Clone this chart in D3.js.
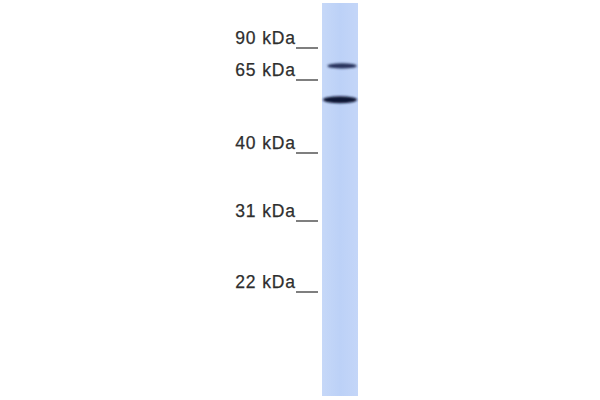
<!DOCTYPE html>
<html>
<head>
<meta charset="utf-8">
<script src="https://cdn.jsdelivr.net/npm/d3@7"></script>
<style>
  body { margin: 0; background: #fff; }
  svg { display: block; }
</style>
</head>
<body>
<div class="blot"></div>
<script>
// marker ladder (kDa) and label text
const markers = [90, 65, 40, 31, 22];
const markerLabels = ["90 kDa", "65 kDa", "40 kDa", "31 kDa", "22 kDa"];
// detected bands in the lane: apparent size (kDa) and relative strength
const bandSizes = [75, 57];
const bandStrength = [0.7, 1];

function run() {
    let root = document.querySelector('.blot')
    var w = 600, h = 400;
    var svg = d3.select(root)
        .append("svg")
        .attr("width", w)
        .attr("height", h);

    // ladder positions don't follow a clean log line, so piecewise log scale
    var yScale = d3.scaleLog()
        .domain(markers)
        .range([48, 80, 153, 221, 292]);

    var lane = { x0: 322, x1: 358, top: 3, bottom: 396 };

    var defs = svg.append("defs");
    var grad = defs.append("linearGradient")
        .attr("id", "laneGrad")
        .attr("x1", "0%").attr("x2", "100%");
    grad.append("stop").attr("offset", "0%").attr("stop-color", "#c6d8f8");
    grad.append("stop").attr("offset", "50%").attr("stop-color", "#bcd1f7");
    grad.append("stop").attr("offset", "100%").attr("stop-color", "#c4d6f8");
    defs.append("filter")
        .attr("id", "soft")
        .attr("x", "-20%").attr("y", "-80%")
        .attr("width", "140%").attr("height", "260%")
        .append("feGaussianBlur")
        .attr("stdDeviation", 1);
    defs.append("filter")
        .attr("id", "edge")
        .append("feGaussianBlur")
        .attr("stdDeviation", 0.6);

    // lane
    svg.append("rect")
        .attr("x", lane.x0)
        .attr("y", lane.top)
        .attr("width", lane.x1 - lane.x0)
        .attr("height", lane.bottom - lane.top)
        .attr("fill", "url(#laneGrad)")
        .attr("filter", "url(#edge)");

    // bands
    svg.selectAll("ellipse.band")
        .data(bandSizes)
        .enter()
        .append("ellipse")
        .attr("class", "band")
        .attr("cx", function(d, i) { return (lane.x0 + lane.x1) / 2 + (1 - bandStrength[i]) * 7; })
        .attr("cy", function(d) { return yScale(d); })
        .attr("rx", function(d, i) { return (lane.x1 - lane.x0) / 2 - 1 - (1 - bandStrength[i]) * 8; })
        .attr("ry", function(d, i) { return 0.6 + bandStrength[i] * 2.8; })
        .attr("fill", function(d, i) { return i == 0 ? "#26335c" : "#0e1736"; })
        .attr("filter", "url(#soft)");

    // marker ticks
    svg.selectAll("line.tick")
        .data(markers)
        .enter()
        .append("line")
        .attr("class", "tick")
        .attr("x1", 296)
        .attr("x2", 318)
        .attr("y1", function(d) { return yScale(d); })
        .attr("y2", function(d) { return yScale(d); })
        .attr("stroke", "#555")
        .attr("stroke-width", 1.5);

    // marker labels
    svg.selectAll("text.label")
        .data(markers)
        .enter()
        .append("text")
        .attr("class", "label")
        .text(function(d, i) { return markerLabels[i]; })
        .attr("text-anchor", "end")
        .attr("x", 296)
        .attr("y", function(d) { return yScale(d) - 4; })
        .attr("font-family", "Liberation Sans, Arial, sans-serif")
        .attr("font-size", "17.5px")
        .attr("letter-spacing", "0.9px")
        .attr("fill", "#2e2e2e")
        .attr("stroke", "#2e2e2e")
        .attr("stroke-width", 0.25);
}
window.addEventListener('load', run)
</script>
</body>
</html>
